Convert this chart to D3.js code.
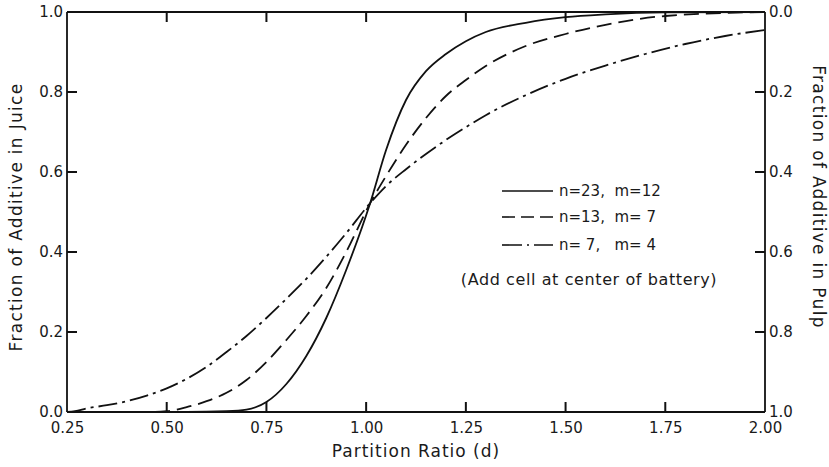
<!DOCTYPE html>
<html>
<head>
<meta charset="utf-8">
<script src="https://cdn.jsdelivr.net/npm/d3@7"></script>
<style>
  body { margin: 0; background: #fff; }
  text { font-family: "DejaVu Sans", sans-serif; fill: #1a1a1a; }
</style>
</head>
<body>
<svg id="chart" width="829" height="467"></svg>
<script>
// partition ratio values (x) and fraction in juice (y) for each battery
const dN23 = [0.25, 0.55, 0.65, 0.70, 0.75, 0.80, 0.85, 0.90, 0.95, 1.01, 1.05, 1.10, 1.15, 1.20, 1.25, 1.30, 1.40, 1.50, 1.60, 1.75, 2.00];
const vN23 = [0.0, 0.0, 0.002, 0.006, 0.025, 0.07, 0.14, 0.235, 0.355, 0.522, 0.655, 0.78, 0.852, 0.895, 0.927, 0.95, 0.973, 0.987, 0.994, 0.999, 1.0];

const dN13 = [0.25, 0.45, 0.50, 0.55, 0.60, 0.65, 0.70, 0.75, 0.80, 0.85, 0.90, 0.95, 1.01, 1.05, 1.10, 1.15, 1.20, 1.25, 1.30, 1.40, 1.50, 1.60, 1.75, 2.00];
const vN13 = [0.0, 0.0, 0.002, 0.012, 0.027, 0.048, 0.08, 0.125, 0.18, 0.24, 0.31, 0.40, 0.522, 0.59, 0.668, 0.735, 0.79, 0.83, 0.865, 0.915, 0.945, 0.968, 0.99, 1.0];

const dN7 = [0.25, 0.27, 0.30, 0.35, 0.40, 0.45, 0.50, 0.55, 0.60, 0.65, 0.70, 0.75, 0.80, 0.85, 0.90, 0.95, 1.01, 1.05, 1.10, 1.15, 1.20, 1.25, 1.30, 1.40, 1.50, 1.60, 1.70, 1.80, 1.90, 2.00];
const vN7 = [0.0, 0.002, 0.009, 0.017, 0.027, 0.041, 0.059, 0.083, 0.113, 0.15, 0.19, 0.235, 0.283, 0.333, 0.388, 0.447, 0.522, 0.565, 0.607, 0.645, 0.68, 0.712, 0.742, 0.792, 0.833, 0.866, 0.895, 0.92, 0.94, 0.955];

const xTicks = [0.25, 0.50, 0.75, 1.00, 1.25, 1.50, 1.75, 2.00];
const yTicks = [0, 0.2, 0.4, 0.6, 0.8, 1.0];
const legendLabels = ["n=23,  m=12", "n=13,  m= 7", "n= 7,   m= 4"];
const noteText = "(Add cell at center of battery)";

const CONSTANTS = {
    LEFT: 67,
    RIGHT: 765,
    TOP: 12,
    BOTTOM: 412,
    TICKLEN: 10,
    INK: "#111",
}

var svg = d3.select("#chart");

var x = d3.scaleLinear()
    .domain([0.25, 2.0])
    .range([CONSTANTS.LEFT, CONSTANTS.RIGHT]);
var y = d3.scaleLinear()
    .domain([0, 1])
    .range([CONSTANTS.BOTTOM, CONSTANTS.TOP]);
// right axis reads the pulp fraction, i.e. 1 - juice
var yPulp = d3.scaleLinear()
    .domain([1, 0])
    .range([CONSTANTS.BOTTOM, CONSTANTS.TOP]);

var series = [
    { d: dN23, v: vN23, dash: null },
    { d: dN13, v: vN13, dash: "15,7" },
    { d: dN7, v: vN7, dash: "19,5,3,5" },
];

// frame first, curves and ticks on top of it
var frame = svg.append("g")
    .attr("stroke", CONSTANTS.INK)
    .attr("stroke-width", 1.8);
frame.append("line").attr("x1", CONSTANTS.LEFT).attr("x2", CONSTANTS.RIGHT)
    .attr("y1", CONSTANTS.TOP).attr("y2", CONSTANTS.TOP);
frame.append("line").attr("x1", CONSTANTS.LEFT).attr("x2", CONSTANTS.RIGHT)
    .attr("y1", CONSTANTS.BOTTOM).attr("y2", CONSTANTS.BOTTOM);
frame.append("line").attr("x1", CONSTANTS.LEFT).attr("x2", CONSTANTS.LEFT)
    .attr("y1", CONSTANTS.TOP).attr("y2", CONSTANTS.BOTTOM);
frame.append("line").attr("x1", CONSTANTS.RIGHT).attr("x2", CONSTANTS.RIGHT)
    .attr("y1", CONSTANTS.TOP).attr("y2", CONSTANTS.BOTTOM);

// inward tick marks on all four sides
xTicks.slice(1, -1).forEach(function (d) {
    frame.append("line")
        .attr("x1", x(d)).attr("x2", x(d))
        .attr("y1", CONSTANTS.BOTTOM).attr("y2", CONSTANTS.BOTTOM - CONSTANTS.TICKLEN)
        .attr("stroke-width", 2);
    frame.append("line")
        .attr("x1", x(d)).attr("x2", x(d))
        .attr("y1", CONSTANTS.TOP).attr("y2", CONSTANTS.TOP + CONSTANTS.TICKLEN)
        .attr("stroke-width", 2);
});
yTicks.slice(1, -1).forEach(function (d) {
    frame.append("line")
        .attr("x1", CONSTANTS.LEFT).attr("x2", CONSTANTS.LEFT + CONSTANTS.TICKLEN)
        .attr("y1", y(d)).attr("y2", y(d))
        .attr("stroke-width", 2);
    frame.append("line")
        .attr("x1", CONSTANTS.RIGHT).attr("x2", CONSTANTS.RIGHT - CONSTANTS.TICKLEN)
        .attr("y1", yPulp(d)).attr("y2", yPulp(d))
        .attr("stroke-width", 2);
});

var curve = d3.line()
    .x(p => x(p[0]))
    .y(p => y(p[1]))
    .curve(d3.curveMonotoneX);

series.forEach(function (s) {
    var pts = s.d.map((d, i) => [d, s.v[i]]);
    svg.append("path")
        .datum(pts)
        .attr("d", curve)
        .attr("fill", "none")
        .attr("stroke", CONSTANTS.INK)
        .attr("stroke-width", 1.8)
        .attr("stroke-dasharray", s.dash);
});

// tick labels from the axes; the frame and ticks are drawn above
function labelsOnly(g) {
    g.selectAll("text")
        .style("font-size", "15px")
        .attr("fill", CONSTANTS.INK);
    g.selectAll(".tick line").remove();
    g.select(".domain").remove();
}

svg.append("g")
    .attr("transform", "translate(0," + CONSTANTS.BOTTOM + ")")
    .call(d3.axisBottom(x).tickValues(xTicks).tickFormat(d3.format(".2f"))
        .tickSize(0).tickPadding(10))
    .call(labelsOnly);

svg.append("g")
    .attr("transform", "translate(" + CONSTANTS.LEFT + ",0)")
    .call(d3.axisLeft(y).tickValues(yTicks).tickFormat(d3.format(".1f"))
        .tickSize(0).tickPadding(4))
    .call(labelsOnly);

svg.append("g")
    .attr("transform", "translate(" + CONSTANTS.RIGHT + ",0)")
    .call(d3.axisRight(yPulp).tickValues(yTicks).tickFormat(d3.format(".1f"))
        .tickSize(0).tickPadding(4))
    .call(labelsOnly);

// axis titles
svg.append("text")
    .attr("x", (CONSTANTS.LEFT + CONSTANTS.RIGHT) / 2)
    .attr("y", 457)
    .attr("text-anchor", "middle")
    .style("font-size", "17px")
    .style("letter-spacing", "1px")
    .text("Partition Ratio (d)");

svg.append("text")
    .attr("transform", "translate(22,217) rotate(-90)")
    .attr("text-anchor", "middle")
    .style("font-size", "17px")
    .style("letter-spacing", "1.3px")
    .text("Fraction of Additive in Juice");

svg.append("text")
    .attr("transform", "translate(813,197) rotate(90)")
    .attr("text-anchor", "middle")
    .style("font-size", "17px")
    .style("letter-spacing", "1.3px")
    .text("Fraction of Additive in Pulp");

// legend
var legendY = [191, 217, 245];
series.forEach(function (s, i) {
    svg.append("line")
        .attr("x1", 502).attr("x2", 553)
        .attr("y1", legendY[i]).attr("y2", legendY[i])
        .attr("stroke", CONSTANTS.INK)
        .attr("stroke-width", 1.6)
        .attr("stroke-dasharray", i === 2 ? "20,5,2,5" : (i === 1 ? "13,6" : null));
    svg.append("text")
        .attr("x", 559)
        .attr("y", legendY[i] + 5)
        .style("font-size", "15px")
        .style("white-space", "pre")
        .text(legendLabels[i]);
});

svg.append("text")
    .attr("x", 589)
    .attr("y", 285)
    .attr("text-anchor", "middle")
    .style("font-size", "16px")
    .style("letter-spacing", "0.6px")
    .text(noteText);
</script>
</body>
</html>
